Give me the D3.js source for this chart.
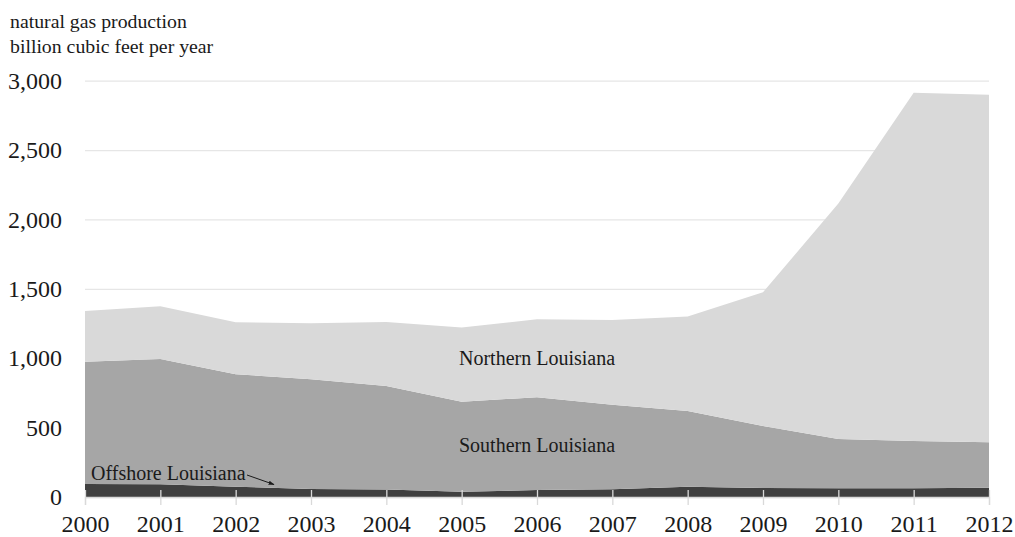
<!DOCTYPE html>
<html>
<head>
<meta charset="utf-8">
<script src="https://cdn.jsdelivr.net/npm/d3@7"></script>
<style>
  body { margin: 0; background: #fff; }
  svg text { font-family: "Liberation Serif", "Times New Roman", serif; fill: #1a1a1a; }
</style>
</head>
<body>
<svg id="chart" width="1015" height="537"></svg>
<script>
const years = [2000, 2001, 2002, 2003, 2004, 2005, 2006, 2007, 2008, 2009, 2010, 2011, 2012];
// billion cubic feet per year
const offshore = [93, 91, 74, 58, 54, 38, 50, 55, 74, 65, 63, 63, 67];
const southern = [882, 904, 811, 791, 746, 649, 669, 610, 546, 447, 355, 341, 327];
const northern = [365, 380, 375, 403, 462, 534, 562, 611, 680, 963, 1697, 2509, 2505];
const yTicks = [0, 500, 1000, 1500, 2000, 2500, 3000];

const svg = d3.select("#chart");
const plotLeft = 85, plotRight = 989, plotTop = 80.7, plotBottom = 497;

const x = d3.scaleLinear().domain([2000, 2012]).range([plotLeft, plotRight]);
const y = d3.scaleLinear().domain([0, 3000]).range([plotBottom, plotTop]);

const rows = years.map((yr, i) => ({ year: yr, offshore: offshore[i], southern: southern[i], northern: northern[i] }));
const stack = d3.stack().keys(["offshore", "southern", "northern"]);
const series = stack(rows);
const colors = { offshore: "#404040", southern: "#a6a6a6", northern: "#d9d9d9" };

// gridlines
svg.append("g")
   .attr("transform", `translate(${plotLeft},0)`)
   .call(d3.axisLeft(y).tickValues(yTicks).tickSize(-(plotRight - plotLeft)).tickFormat(""))
   .call(g => g.select(".domain").remove())
   .call(g => g.selectAll("line").attr("stroke", "#e6e6e6").attr("stroke-width", 1.3));

const area = d3.area()
  .x(d => x(d.data.year))
  .y0(d => y(d[0]))
  .y1(d => y(d[1]));

svg.append("g").selectAll("path")
   .data(series)
   .enter()
   .append("path")
   .attr("fill", d => colors[d.key])
   .attr("d", area);

// y labels
svg.append("g")
   .attr("transform", `translate(${plotLeft},0)`)
   .call(d3.axisLeft(y).tickValues(yTicks).tickSize(0).tickPadding(23).tickFormat(d3.format(",")))
   .call(g => g.select(".domain").remove())
   .call(g => g.selectAll("text").style("font-size", "24px").style("font-family", "Liberation Serif"));

// x axis
svg.append("g")
   .attr("transform", `translate(0,${plotBottom})`)
   .call(d3.axisBottom(x).tickValues(years).tickFormat(d3.format("d")).tickSize(8).tickPadding(10))
   .call(g => g.select(".domain").attr("stroke", "#d9d9d9").attr("stroke-width", 1.3))
   .call(g => g.selectAll("line").attr("stroke", "#d9d9d9").attr("y1", -7).attr("stroke-width", 1.3))
   .call(g => g.selectAll("text").style("font-size", "24px").style("font-family", "Liberation Serif").attr("fill", "#1a1a1a"));

// title
svg.append("text").attr("x", 10).attr("y", 28).style("font-size", "19.8px").text("natural gas production");
svg.append("text").attr("x", 10).attr("y", 52.5).style("font-size", "19.8px").text("billion cubic feet per year");

// series labels
svg.append("text").attr("x", 459).attr("y", 365).style("font-size", "20px").text("Northern Louisiana");
svg.append("text").attr("x", 459).attr("y", 451.5).style("font-size", "20px").text("Southern Louisiana");
svg.append("text").attr("x", 91).attr("y", 480).style("font-size", "20px").text("Offshore Louisiana");

svg.append("defs").append("marker")
   .attr("id", "arrow").attr("viewBox", "0 0 10 10").attr("refX", 9).attr("refY", 5)
   .attr("markerWidth", 6).attr("markerHeight", 6).attr("orient", "auto")
   .append("path").attr("d", "M0,1.5 L10,5 L0,8.5 z").attr("fill", "#1a1a1a");

svg.append("line")
   .attr("x1", 247).attr("y1", 475).attr("x2", 274).attr("y2", 484.5)
   .attr("stroke", "#1a1a1a").attr("stroke-width", 1)
   .attr("marker-end", "url(#arrow)");
</script>
</body>
</html>
